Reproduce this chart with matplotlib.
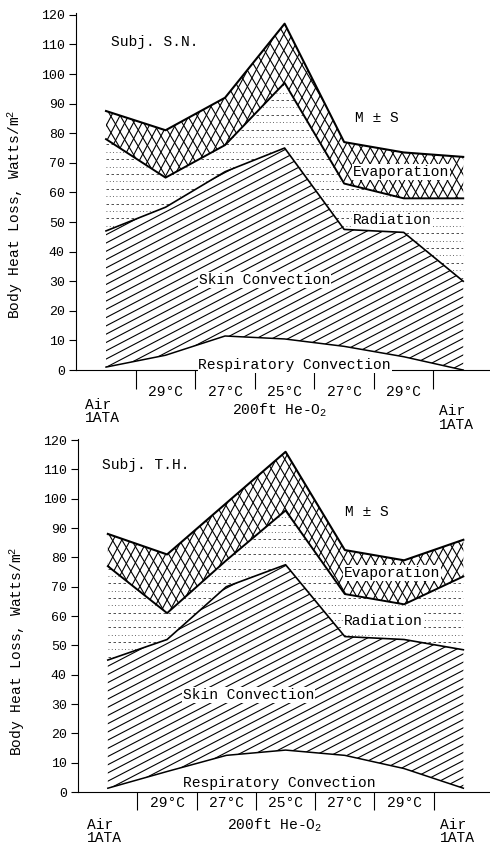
import matplotlib.pyplot as plt
import numpy as np

plt.rcParams['font.family'] = ['Liberation Mono', 'DejaVu Sans']
plt.rcParams['mathtext.fontset'] = 'custom'
plt.rcParams['mathtext.rm'] = 'Liberation Mono'
plt.rcParams['mathtext.it'] = 'Liberation Mono'

# conditions along the x axis (0 = Air 1ATA start, 6 = Air 1ATA end)
positions = [0, 1, 2, 3, 4, 5, 6]
temp_labels = ['29°C', '27°C', '25°C', '27°C', '29°C']
yticks = list(range(0, 121, 10))

# Subj. S.N. - cumulative boundaries, Watts/m2
resp_sn = [1, 5, 11.5, 10.5, 8, 4.5, 0]
skin_sn = [47, 55, 67, 75, 47.5, 46.5, 30]
rad_sn = [78, 65, 76, 97, 63, 58, 58]
total_sn = [87.5, 81, 92, 117, 77, 73.5, 72]

# Subj. T.H.
resp_th = [1.3, 7, 12.5, 14.3, 12.5, 8, 1.3]
skin_th = [45, 52, 70, 77.5, 53, 52, 48.5]
rad_th = [77, 61, 79, 96, 67.5, 64, 73.5]
total_th = [88, 81, 98.5, 116, 82.5, 79, 86]


def hatch_lines(ax, poly, slope, step, **kw):
    # draw straight hatch lines y = slope*x + c, clipped to a filled region
    clip = poly.get_paths()[0]
    xs = np.array([-0.6, 6.6])
    lo = -130 - abs(slope) * 7
    hi = 130 + abs(slope) * 7
    for c in np.arange(lo, hi, step):
        ln, = ax.plot(xs, slope * xs + c, **kw)
        ln.set_clip_path(clip, ax.transData)


def draw_panel(ax, resp, skin, rad, total, subject, lab, under):
    x = positions
    # skin convection: shallow diagonal lines
    skin_poly = ax.fill_between(x, resp, skin, facecolor='white', linewidth=0)
    hatch_lines(ax, skin_poly, 10.5, 2.8, color='black', lw=0.8)
    # radiation: dashed / dotted horizontal rows
    rad_poly = ax.fill_between(x, skin, rad, facecolor='white', linewidth=0)
    clip = rad_poly.get_paths()[0]
    for i, yy in enumerate(np.arange(1.2, 121, 2.5)):
        ls = (0, (3, 3)) if i % 2 == 0 else (0, (1, 3))
        ln, = ax.plot([-0.5, 6.5], [yy, yy], color='#333333', lw=0.6, ls=ls)
        ln.set_clip_path(clip, ax.transData)
    # evaporation / M +- S band: steep cross hatch
    evap_poly = ax.fill_between(x, rad, total, facecolor='white', linewidth=0)
    hatch_lines(ax, evap_poly, 38, 5.5, color='black', lw=0.8)
    hatch_lines(ax, evap_poly, -34, 5.5, color='black', lw=0.8)

    ax.plot(x, resp, color='black', lw=1.1)
    ax.plot(x, skin, color='black', lw=1.2)
    ax.plot(x, rad, color='black', lw=1.4)
    ax.plot(x, total, color='black', lw=1.5)

    box = dict(facecolor='white', edgecolor='none', pad=0.6)
    ax.text(lab['subj'][0], lab['subj'][1], subject, fontsize=10.5, va='center')
    ax.text(lab['ms'][0], lab['ms'][1], 'M ± S', fontsize=10.5, ha='center', va='center')
    ax.text(lab['evap'][0], lab['evap'][1], 'Evaporation', fontsize=10.5,
            ha='center', va='center', bbox=box)
    ax.text(lab['rad'][0], lab['rad'][1], 'Radiation', fontsize=10.5,
            ha='center', va='center', bbox=box)
    ax.text(lab['skin'][0], lab['skin'][1], 'Skin Convection', fontsize=10.5,
            ha='center', va='center', bbox=box)
    ax.text(lab['resp'][0], lab['resp'][1], 'Respiratory Convection', fontsize=10.5,
            ha='center', va='center', bbox=box)

    ax.set_xlim(-0.505, 6.45)
    ax.set_ylim(0, 121)
    ax.spines['top'].set_visible(False)
    ax.spines['right'].set_visible(False)
    ax.spines['left'].set_bounds(0, 120.5)
    ax.set_yticks(yticks)
    ax.tick_params(axis='y', length=5, labelsize=9.5, pad=3)
    ax.set_xticks([0.5, 1.5, 2.5, 3.5, 4.5, 5.5])
    ax.set_xticklabels([])
    ax.tick_params(axis='x', length=under['tick'], direction='out')

    tr = ax.get_xaxis_transform()
    for p, t in zip(positions[1:6], temp_labels):
        ax.text(p, under['temp'], t, transform=tr, fontsize=10.5,
                ha='center', va='center')
    ax.text(-0.36, under['air_l'], 'Air\n1ATA', transform=tr, fontsize=10.5,
            ha='left', va='center', linespacing=0.95)
    ax.text(5.6, under['air_r'], 'Air\n1ATA', transform=tr, fontsize=10.5,
            ha='left', va='center', linespacing=0.95)
    ax.text(under['gas_x'], under['gas'], '200ft He-O$_2$', transform=tr,
            fontsize=10.5, ha='center', va='center')

    ax.set_ylabel('Body Heat Loss, Watts/m$^2$', fontsize=10.5)
    ax.yaxis.set_label_coords(-0.123, under['ylab'])


fig = plt.figure(figsize=(4.9, 8.46), dpi=100)
ax1 = fig.add_axes([0.155, 0.5626, 0.845, 0.4234])
ax2 = fig.add_axes([0.159, 0.0638, 0.841, 0.4195])

draw_panel(ax1, resp_sn, skin_sn, rad_sn, total_sn, 'Subj. S.N.',
           dict(subj=(0.08, 110.8), ms=(4.55, 85), evap=(4.96, 67), rad=(4.81, 50.7),
                skin=(2.66, 30.4), resp=(3.17, 1.7)),
           dict(tick=14, temp=-0.061, air_l=-0.115, air_r=-0.134, gas=-0.112, gas_x=2.92,
                ylab=0.436))
draw_panel(ax2, resp_th, skin_th, rad_th, total_th, 'Subj. T.H.',
           dict(subj=(-0.1, 111.5), ms=(4.37, 95.6), evap=(4.8, 74.6), rad=(4.65, 58.3),
                skin=(2.37, 33), resp=(2.9, 3)),
           dict(tick=13, temp=-0.031, air_l=-0.111, air_r=-0.111, gas=-0.093, gas_x=2.82,
                ylab=0.397))

fig.savefig('out.png', dpi=100)
